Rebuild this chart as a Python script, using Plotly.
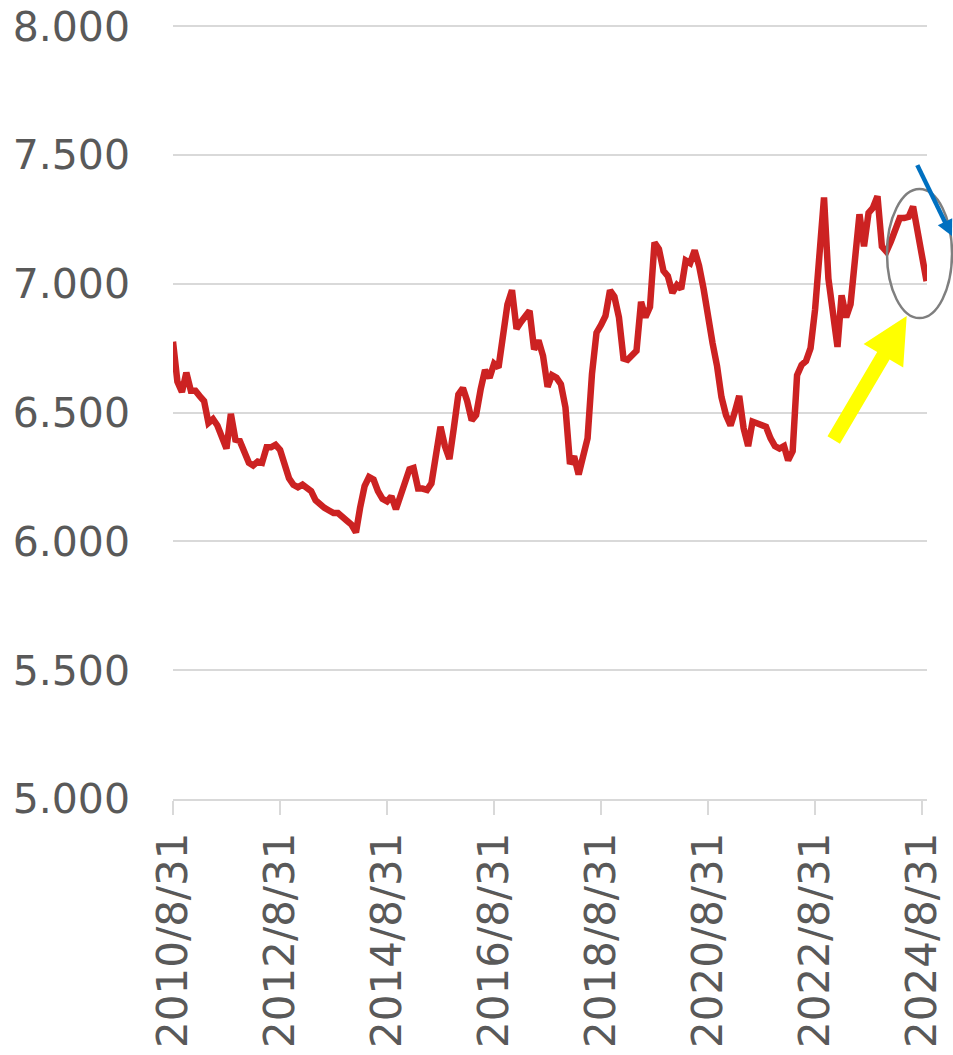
import pandas as pd
import plotly.graph_objects as go

# ---- data (monthly) ----
start_date = "2010-08-31"
rate_values = [
    6.775, 6.62, 6.58, 6.655, 6.585, 6.585, 6.565, 6.545, 6.46, 6.475,
    6.45, 6.41, 6.36, 6.495, 6.395, 6.39, 6.345, 6.305, 6.295, 6.31,
    6.305, 6.365, 6.365, 6.375, 6.355, 6.305, 6.245, 6.22, 6.21, 6.22,
    6.21, 6.195, 6.16, 6.14, 6.13, 6.12, 6.11, 6.11, 6.09, 6.08,
    6.065, 6.035, 6.13, 6.215, 6.25, 6.24, 6.195, 6.165, 6.155, 6.175,
    6.125, 6.175, 6.225, 6.28, 6.285, 6.205, 6.205, 6.20, 6.225, 6.33,
    6.445, 6.37, 6.32, 6.44, 6.57, 6.595, 6.545, 6.47, 6.49, 6.59,
    6.665, 6.635, 6.69, 6.675, 6.80, 6.92, 6.975, 6.825, 6.85, 6.87,
    6.895, 6.745, 6.78, 6.72, 6.60, 6.645, 6.635, 6.61, 6.52, 6.30,
    6.33, 6.26, 6.32, 6.40, 6.65, 6.81, 6.84, 6.875, 6.975, 6.95,
    6.87, 6.71, 6.705, 6.725, 6.74, 6.93, 6.87, 6.91, 7.16, 7.135,
    7.05, 7.03, 6.965, 6.995, 6.98, 7.09, 7.08, 7.13, 7.07, 6.98,
    6.85, 6.77, 6.68, 6.56, 6.49, 6.45, 6.50, 6.565, 6.44, 6.37,
    6.465, 6.46, 6.455, 6.445, 6.40, 6.37, 6.36, 6.37, 6.315, 6.35,
    6.645, 6.685, 6.70, 6.75, 6.90, 7.12, 7.335, 7.02, 6.88, 6.755,
    6.955, 6.87, 6.92, 7.12, 7.27, 7.145, 7.275, 7.295, 7.34, 7.145,
    7.125, 7.165, 7.205, 7.255, 7.255, 7.26, 7.30, 7.21, 7.09, 7.01,
]
dates = pd.date_range(start_date, periods=len(rate_values), freq="ME")

tick_dates = ["2010-08-31", "2012-08-31", "2014-08-31", "2016-08-31",
              "2018-08-31", "2020-08-31", "2022-08-31", "2024-08-31"]
tick_labels = ["2010/8/31", "2012/8/31", "2014/8/31", "2016/8/31",
               "2018/8/31", "2020/8/31", "2022/8/31", "2024/8/31"]
y_ticks = [5.0, 5.5, 6.0, 6.5, 7.0, 7.5, 8.0]

# ---- layout geometry (page pixels; body margin removed by post_script) ----
W, H = 953, 1055
Y_MIN, Y_MAX = 5.0, 8.02
PLOT_L, PLOT_R = 173, 927            # x of plot area
PLOT_B = 799                         # y of value 5
PX_PER_UNIT = (799 - 26) / 3.0
PLOT_T = PLOT_B - (Y_MAX - Y_MIN) * PX_PER_UNIT

L = PLOT_L
R = W - PLOT_R
T = PLOT_T
B = H - PLOT_B


def px(x):
    return (x - PLOT_L) / (PLOT_R - PLOT_L)


def py(y):
    return (PLOT_B - y) / (PLOT_B - PLOT_T)


def path(points):
    return "M " + " L ".join(f"{px(x):.5f},{py(y):.5f}" for x, y in points) + " Z"


fig = go.Figure()
fig.add_trace(go.Scatter(
    x=dates, y=rate_values, mode="lines",
    line=dict(color="#CC2222", width=6.5),
    hoverinfo="skip", showlegend=False,
))

FONT = "DejaVu Sans"
GREY = "#595959"

shapes = [
    # ellipse highlight
    dict(type="circle", xref="paper", yref="paper",
         x0=px(887), x1=px(952), y0=py(318), y1=py(189),
         line=dict(color="#7F7F7F", width=2.5)),
    # yellow block arrow
    dict(type="path", xref="paper", yref="paper",
         path=path([(827.5, 436.3), (877.2, 352.0), (863.6, 343.9),
                    (906.7, 316.0), (903.2, 367.3), (889.6, 359.3),
                    (839.9, 443.7)]),
         fillcolor="#FFFF00", line=dict(width=0)),
    # blue arrow shaft
    dict(type="line", xref="paper", yref="paper",
         x0=px(917.3), y0=py(165), x1=px(945.5), y1=py(223),
         line=dict(color="#0070C0", width=4.5)),
    # blue arrow head
    dict(type="path", xref="paper", yref="paper",
         path=path([(937.8, 225.1), (952.0, 236.0), (952.2, 218.1)]),
         fillcolor="#0070C0", line=dict(width=0)),
]

fig.update_layout(
    width=W, height=H,
    margin=dict(l=L, r=R, t=T, b=B, pad=0),
    paper_bgcolor="white", plot_bgcolor="white",
    font=dict(family=FONT, color=GREY),
    shapes=shapes,
    showlegend=False,
    hovermode=False,
)

fig.update_xaxes(
    type="date",
    range=["2010-08-31", "2024-10-03"],
    tickvals=tick_dates, ticktext=tick_labels,
    tickangle=-90,
    tickfont=dict(family=FONT, size=42, color=GREY),
    ticks="outside", ticklen=14, tickwidth=1.5, tickcolor="#D9D9D9",
    ticklabelstandoff=1, ticklabeloverflow="allow",
    showline=True, linecolor="#D9D9D9", linewidth=1.5,
    showgrid=False, zeroline=False, automargin=False,
)
fig.update_yaxes(
    range=[Y_MIN, Y_MAX], tickvals=y_ticks,
    tickformat=".3f",
    tickfont=dict(family=FONT, size=41, color=GREY),
    showgrid=True, gridcolor="#D9D9D9", gridwidth=1.5,
    ticks="", ticklabelstandoff=42, ticklabeloverflow="allow",
    showline=False, zeroline=False, automargin=False,
)

fig.write_html(
    "out.html",
    config={"displayModeBar": False},
    post_script="document.body.style.margin='0';document.body.style.overflow='hidden';",
)
